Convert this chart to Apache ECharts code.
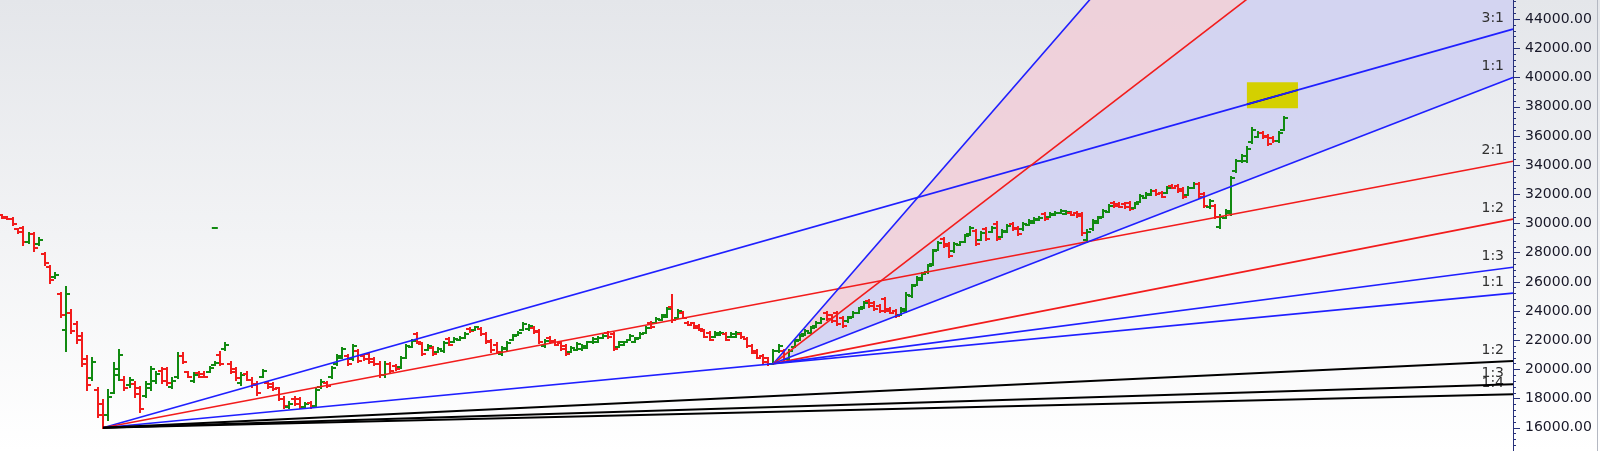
<!DOCTYPE html>
<html><head><meta charset="utf-8">
<script src="https://cdn.jsdelivr.net/npm/echarts@6/dist/echarts.min.js"></script>
<style>html,body{margin:0;padding:0;background:#fff}#c{width:1600px;height:451px}</style>
</head><body><div id="c"></div>
<script>
// ---- daily OHLC bars ----
const opens = [30550,30420,30300,29600,29700,28750,29300,28600,27900,27000,
26300,25200,22700,23900,23100,22300,20700,19400,18600,17600,
16900,18400,19600,19300,18900,19000,18700,18200,18700,19200,
19900,20000,18800,19500,20900,19800,19200,19750,19700,19850,
20300,21000,21400,20400,20000,19100,19700,19300,19000,19500,
19100,19000,18700,18000,17400,18000,17950,17400,17700,17500,
18800,19100,19450,20350,20800,20900,20700,21250,20950,21050,
20700,20400,19600,20350,20250,20150,20800,21550,22400,21750,
21350,21500,21200,21250,22100,21900,22020,22150,22800,22700,
22800,22400,21950,21700,21050,21400,22050,22380,22700,22750,
22850,22600,21600,22150,21950,21800,21600,21200,21350,21400,
21500,21850,21900,22150,22500,22400,21550,21680,22050,21900,
22150,22500,23200,23200,23400,23600,24300,23550,23900,23200,
23150,23000,22650,22500,22250,22380,22450,22250,22250,22450,
22100,21600,21250,20950,20750,20400,21250,21250,20700,21550,
22050,22400,22500,22950,23200,23850,23700,23850,23500,23300,
23600,23880,24250,24700,24580,24350,24800,24150,24000,23750,
24000,25000,25800,26150,26650,27200,28200,28950,28600,28100,
28540,28750,29250,29500,28900,29600,29420,30000,29100,29450,
29980,29700,29600,29900,30050,30250,30650,30450,30600,30720,
30660,30750,30750,30650,28850,29600,30050,30450,30800,31420,
31350,31350,31400,31080,31500,31760,31960,32250,32100,32100,
32600,32600,32380,31980,32450,32700,32000,31100,31200,29750,
30400,30700,33600,34250,34300,35600,35950,36200,36000,35850,
35650,36400];
const highs = [30570,30430,30360,29610,29750,29340,29340,28990,27970,27080,
26600,25230,25640,24060,23240,22480,20910,20770,18720,17890,
18580,20430,21320,19470,19400,19130,18790,19130,20160,19810,
20090,20090,19400,21110,21110,19810,19740,19810,19810,20160,
20500,21180,21800,20500,20090,19740,19810,19400,19130,19950,
19130,19060,18720,18100,17760,18100,18030,17690,17760,18720,
19260,19130,20160,20980,21460,20980,21660,21320,20980,21110,
20770,20500,20500,20430,20290,20840,21660,22000,22480,21800,
21660,21530,21460,21870,22140,22140,22210,22480,22830,22900,
22830,22480,22000,21800,21530,21870,22350,22550,23170,23030,
22900,22690,22000,22210,22000,21870,21660,21530,21800,21660,
21870,22140,22210,22350,22550,22480,21870,21870,22350,22140,
22480,22900,23240,23510,23720,24200,25090,24060,23920,23240,
23170,23030,22690,22550,22550,22550,22480,22480,22550,22480,
22140,21660,21320,20980,20770,21320,21660,21320,21320,22000,
22350,22690,22900,23240,23510,23920,23720,23920,23580,23580,
23920,24200,24610,24750,24610,24400,24880,24200,24060,24200,
25230,25770,26320,26600,27140,28170,28720,28990,28650,28650,
28720,29200,29750,29540,29400,29680,29750,30090,29540,29890,
30020,29750,30020,30230,30360,30430,30710,30710,30780,30910,
30840,30780,30780,30710,29540,30230,30430,30910,31260,31460,
31390,31390,31460,31390,31940,32080,32280,32280,32150,32490,
32630,32630,32420,32490,32760,32760,32080,31600,31260,30570,
30910,33170,34340,34680,35230,36530,36260,36260,36050,35910,
36260,37290];
const lows = [30360,30300,29890,29340,28520,28650,28100,28520,27140,25910,
26250,23580,21250,22480,21800,20220,18580,19260,16730,15980,
16520,18370,19260,18580,18790,18100,17070,18100,18580,19060,
19060,18920,18720,19400,20430,19470,19130,19470,19470,19810,
20290,20290,21320,19740,19260,18920,19260,18790,18240,19470,
18720,18580,17890,17350,17350,17550,17350,17350,17350,17410,
18720,18790,19400,20290,20770,20290,20640,20500,20640,20430,
20290,19470,19470,19810,19950,20090,20770,21530,21800,20980,
21320,20980,21180,21180,21660,21870,22000,22140,22550,22690,
22350,21800,21180,21110,20980,21320,22000,22350,22690,22690,
22480,21800,21530,21800,21660,21320,20980,21180,21320,21320,
21460,21800,21870,22140,22140,21320,21530,21660,22000,21870,
22140,22480,22830,23170,23380,23580,23240,23510,23510,23030,
22830,22690,22210,22000,22210,22350,22000,22210,22210,22140,
21530,21110,20770,20430,20290,20360,21180,20640,20640,21530,
22000,22350,22480,22900,23170,23380,23240,23030,22900,23240,
23580,23860,24200,24270,24060,23920,23920,23860,23580,23720,
23920,24950,25770,26120,26600,27140,28170,28380,27690,28040,
28520,28720,29200,28520,28860,28860,29400,28860,29060,29400,
29540,29200,29540,29890,30020,30230,30230,30430,30570,30710,
30640,30570,30430,29200,28720,29540,30020,30430,30780,31120,
31120,31050,30910,31050,31460,31740,31940,31940,31800,32080,
32420,32150,31740,31940,32420,31740,31120,31050,30360,29680,
30360,30570,33520,34200,34200,35500,35910,35850,35370,35570,
35570,36390];
const closes = [30400,30320,29950,29400,28700,29250,28300,28900,27300,26100,
26500,23700,25200,22600,22000,20400,18900,20500,16900,16900,
18100,20000,21000,18700,19300,18300,17300,19000,20000,19700,
19200,19100,19200,20900,20500,19500,19600,19500,19480,20100,
20450,20350,21700,19800,19400,19600,19300,18900,18400,19900,
18800,18650,18000,17500,17650,17600,17450,17600,17400,18600,
19150,18850,20100,20900,21400,20350,21600,20600,20700,20500,
20350,19600,20400,19900,20000,20750,21600,21950,21850,21050,
21600,21050,21400,21800,21700,22100,22180,22450,22600,22880,
22400,21850,21300,21200,21450,21800,22300,22520,23100,23000,
22550,21900,21950,21850,21700,21400,21050,21450,21750,21600,
21850,22100,22150,22300,22200,21400,21850,21850,22300,22100,
22450,22850,22900,23450,23700,24150,23400,24000,23550,23050,
22850,22750,22250,22050,22500,22500,22050,22450,22500,22200,
21600,21150,20800,20500,20350,21250,21600,20700,21250,21950,
22300,22650,22850,23200,23450,23450,23300,23100,22950,23550,
23900,24150,24550,24350,24150,24000,24000,23900,23650,24150,
25100,25700,26250,26550,27100,28100,28650,28450,27800,28600,
28700,29150,29700,28600,29350,28950,29700,28950,29500,29850,
29600,29250,29950,30200,30300,30400,30300,30650,30750,30880,
30800,30600,30480,29350,29450,30150,30380,30850,31200,31180,
31150,31100,30980,31350,31900,32050,32250,32000,31850,32450,
32450,32200,31800,32450,32700,31850,31200,31550,30450,30450,
30850,33100,34250,34600,35100,36400,36200,35900,35450,35650,
36200,37250];
const strayTicks = [[40, 29680]];

// ---- Gann fans: origin [bar index, price], prices where each ray meets the right edge ----
const fan1Origin = [19, 16000];
const fan1EndPrices = [43320, 34270, 25230, 20570, 18990, 18300];
const fan1Labels = ['3:1', '2:1', '1:1', '1:2', '1:3', '1:4'];
const fan2Origin = [145, 20400];
const fan2EndPrices = [78700, 59400, 40000, 30300, 27000];
const fan2Labels = ['', '', '1:1', '1:2', '1:3'];
// highlighted zone on the top fan-1 ray: [x0, price0, x1, price1]
const highlightBox = [234, 37900, 243.6, 39680];

// ---- axis range ----
const yMin = 14000, yMax = 46000, yStep = 2000;
const xMin = -0.38, xMax = 284.02;

// ---- styles ----
const GREEN = '#118a11', RED = '#f21c1c', BLUE = '#1f1fff', BLACK = '#000000';
const fan1Colors = [BLUE, RED, BLUE, BLACK, BLACK, BLACK];
const fan1Widths = [1.6, 1.6, 1.6, 2, 2, 2];
const fan2Colors = [BLUE, RED, BLUE, RED, BLUE];
const PINK = 'rgba(240,205,215,0.85)', LAVENDER = 'rgba(208,210,242,0.9)';

const chart = echarts.init(document.getElementById('c'), null, {renderer: 'canvas'});

const ohlc = opens.map((o, i) => [i, o, highs[i], lows[i], closes[i]]);

function renderOHLC(params, api) {
  const i = api.value(0), o = api.value(1), h = api.value(2), l = api.value(3), c = api.value(4);
  const pH = api.coord([i, h]), pL = api.coord([i, l]);
  const yO = Math.round(api.coord([i, o])[1]), yC = Math.round(api.coord([i, c])[1]);
  const x = Math.round(pH[0]);
  const st = {stroke: c >= o ? GREEN : RED, lineWidth: 2};
  return {type: 'group', children: [
    {type: 'line', shape: {x1: x, y1: Math.round(pH[1]) - 1, x2: x, y2: Math.round(pL[1]) + 1}, style: st},
    {type: 'line', shape: {x1: x - 4, y1: yO, x2: x, y2: yO}, style: st},
    {type: 'line', shape: {x1: x, y1: yC, x2: x + 4, y2: yC}, style: st}
  ]};
}

const series = [];
// fills of fan 2
series.push({
  type: 'custom', coordinateSystem: 'cartesian2d', clip: true, silent: true,
  data: [[fan2Origin[0], fan2Origin[1]]],
  renderItem: function (params, api) {
    const o = api.coord(fan2Origin);
    const e0 = api.coord([xMax, fan2EndPrices[0]]);
    const e1 = api.coord([xMax, fan2EndPrices[1]]);
    const e2 = api.coord([xMax, fan2EndPrices[2]]);
    return {type: 'group', children: [
      {type: 'polygon', shape: {points: [o, e0, e1]}, style: {fill: PINK}},
      {type: 'polygon', shape: {points: [o, e1, e2]}, style: {fill: LAVENDER}}
    ]};
  }
});
fan1EndPrices.forEach((p, k) => series.push({
  type: 'line', data: [fan1Origin, [xMax, p]], showSymbol: false, silent: true, clip: true,
  lineStyle: {color: fan1Colors[k], width: fan1Widths[k]}
}));
fan2EndPrices.forEach((p, k) => series.push({
  type: 'line', data: [fan2Origin, [xMax, p]], showSymbol: false, silent: true, clip: true,
  lineStyle: {color: fan2Colors[k], width: 1.6}
}));
// bars
series.push({
  type: 'custom', coordinateSystem: 'cartesian2d', data: ohlc, clip: true, silent: true,
  encode: {x: 0, y: [1, 2, 3, 4]}, renderItem: renderOHLC
});
series.push({
  type: 'custom', data: strayTicks, silent: true,
  renderItem: function (params, api) {
    const p = api.coord([api.value(0), api.value(1)]);
    return {type: 'line', shape: {x1: p[0] - 3, y1: Math.round(p[1]), x2: p[0] + 3, y2: Math.round(p[1])}, style: {stroke: GREEN, lineWidth: 2}};
  }
});
// highlight box with the ray segment inside it
series.push({
  type: 'custom', data: [highlightBox], silent: true,
  renderItem: function (params, api) {
    const a = api.coord([highlightBox[0], highlightBox[3]]);
    const b = api.coord([highlightBox[2], highlightBox[1]]);
    const slope = (fan1EndPrices[0] - fan1Origin[1]) / (xMax - fan1Origin[0]);
    const pAt = x => fan1Origin[1] + slope * (x - fan1Origin[0]);
    const s0 = api.coord([highlightBox[0], pAt(highlightBox[0])]);
    const s1 = api.coord([highlightBox[2], pAt(highlightBox[2])]);
    return {type: 'group', children: [
      {type: 'rect', shape: {x: a[0], y: a[1], width: b[0] - a[0], height: b[1] - a[1]}, style: {fill: '#d4d000'}},
      {type: 'line', shape: {x1: s0[0], y1: s0[1], x2: s1[0], y2: s1[1]}, style: {stroke: '#111', lineWidth: 1.6}}
    ]};
  }
});
// ray labels
const labelData = [];
fan1EndPrices.forEach((p, k) => labelData.push([xMax, p, fan1Labels[k]]));
fan2EndPrices.forEach((p, k) => { if (fan2Labels[k]) labelData.push([xMax, p, fan2Labels[k]]); });
series.push({
  type: 'custom', data: labelData, silent: true, clip: false,
  renderItem: function (params, api) {
    const p = api.coord([api.value(0), api.value(1)]);
    return {type: 'text', x: p[0] - 9, y: p[1] - 11,
      style: {text: labelData[params.dataIndex][2], fill: '#303030', font: '14px "DejaVu Sans"', align: 'right', verticalAlign: 'middle'}};
  }
});

chart.setOption({
  animation: false,
  backgroundColor: new echarts.graphic.LinearGradient(0, 0, 0, 1, [
    {offset: 0, color: '#e4e6ea'}, {offset: 1, color: '#ffffff'}]),
  grid: {left: 0, right: 87, top: -10, bottom: -6, containLabel: false, outerBoundsMode: 'none'},
  xAxis: {type: 'value', min: xMin, max: xMax, show: false},
  yAxis: {
    type: 'value', position: 'right', min: yMin, max: yMax, interval: yStep,
    axisLine: {show: true, onZero: false, lineStyle: {color: '#26307a', width: 1}},
    axisTick: {show: true, length: 7, lineStyle: {color: '#26307a'}},
    minorTick: {show: true, splitNumber: 5, length: 3, lineStyle: {color: '#26307a'}},
    splitLine: {show: false},
    axisLabel: {formatter: v => v.toFixed(2), color: '#181828', fontFamily: 'DejaVu Sans', fontSize: 14, margin: 12}
  },
  graphic: [{type: 'line', silent: true, shape: {x1: 1597.5, y1: 0, x2: 1597.5, y2: 451},
    style: {stroke: '#b4b8c2', lineWidth: 1}}],
  series: series
});
</script></body></html>
